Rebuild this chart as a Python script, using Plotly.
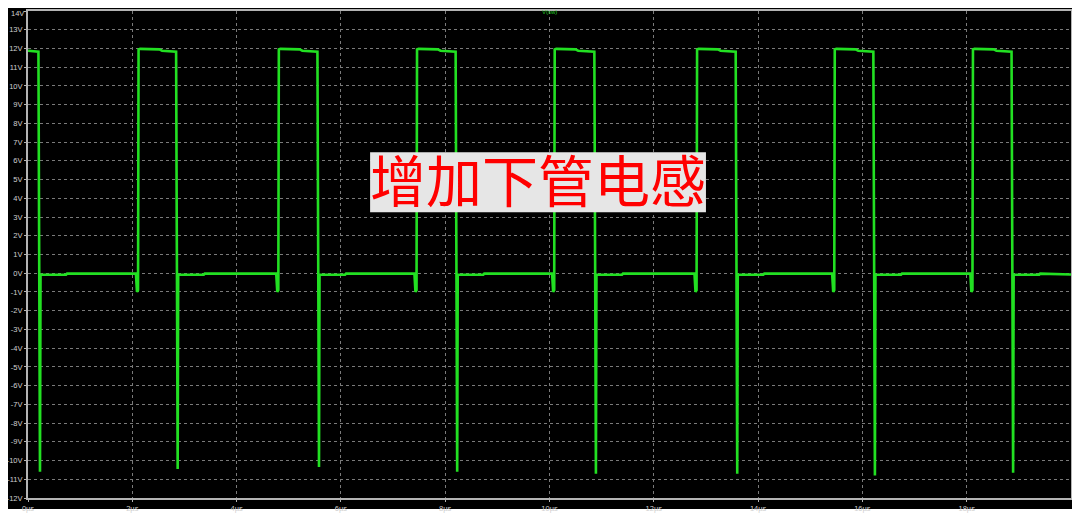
import plotly.graph_objects as go

# ---- data (times in µs, voltages in V) ----
rise_t = [2.12, 4.81, 7.46, 10.10, 12.83, 15.47, 18.12]
fall_t = [0.23, 2.87, 5.58, 8.23, 10.89, 13.60, 16.24, 18.89]
spike_min = [-10.6, -10.45, -10.35, -10.6, -10.7, -10.7, -10.8, -10.65]
dip_min = [-1.0, -1.0, -1.0, -1.0, -1.0, -1.0, -1.0]
high_start = 11.95
high_end = 11.88
low_after_fall = -0.08
low_before_rise = -0.02
t_end = 20.0

y_ticks = list(range(-12, 15))
y_labels = [f"{v}V" for v in y_ticks]
x_ticks = list(range(0, 20, 2))
x_labels = [f"{v}µs" for v in x_ticks]

# ---- assemble the polyline from the edge list ----
t, v = [0.0], [high_end]
for i, tf in enumerate(fall_t):
    t += [tf - 0.03, tf, tf + 0.01, tf + 0.5, tf + 0.52]
    v += [high_end - 0.05, spike_min[i], low_after_fall,
          low_after_fall, low_before_rise]
    if i < len(rise_t):
        tr = rise_t[i]
        t += [tr - 0.05, tr - 0.03, tr - 0.01, tr, tr + 0.03, tr + 0.4, tr + 0.45]
        v += [low_before_rise, dip_min[i], dip_min[i] + 0.1, high_start,
              high_start + 0.03, high_start, high_end]
t.append(t_end)
v.append(low_before_rise - 0.05)

fig = go.Figure()
fig.add_trace(go.Scatter(x=t, y=v, mode="lines",
                         line=dict(color="#22e022", width=2.6),
                         hoverinfo="skip", showlegend=False))

# black panel behind the plot
fig.add_shape(type="rect", xref="paper", yref="paper",
              x0=-0.0192, x1=1.002, y0=-0.0226, y1=1.008,
              fillcolor="black", line=dict(width=0), layer="below")
# light box behind the label
fig.add_shape(type="rect", xref="paper", yref="paper",
              x0=0.328, x1=0.650, y0=0.587, y1=0.710,
              fillcolor="#e6e6e6", line=dict(width=0), layer="above")

tick_font = dict(family="Liberation Sans", size=7.5, color="#d0d0d0")
axis_common = dict(showline=True, mirror=True, linecolor="#b4b4b4", linewidth=2,
                   showgrid=True, gridcolor="#7a7a7a", griddash="dot", gridwidth=1,
                   ticks="outside", ticklen=2, tickcolor="#b4b4b4",
                   tickfont=tick_font,
                   zeroline=False, fixedrange=True, automargin=False)

# top label is drawn as an annotation so it is not clipped by the page edge
y_labels_axis = ["" if v == y_ticks[-1] else lab for v, lab in zip(y_ticks, y_labels)]

fig.update_xaxes(range=[0, 20], tickvals=x_ticks, ticktext=x_labels, **axis_common)
fig.update_yaxes(range=[-12, 14], tickvals=y_ticks, ticktext=y_labels_axis,
                 ticklabelstandoff=0, **axis_common)

fig.add_annotation(text=y_labels[-1], xref="paper", yref="paper", x=0, y=1,
                   xanchor="right", yanchor="top", xshift=-3, yshift=3,
                   showarrow=False, borderpad=0, font=tick_font)

fig.add_annotation(text="增加下管电感", xref="paper", yref="paper", x=0.489, y=0.649,
                   showarrow=False, borderpad=0, yshift=4,
                   font=dict(family="Noto Sans CJK SC", size=56, color="#ff0000"))

fig.add_annotation(text="V(sw)", xref="paper", yref="paper", x=0.5, y=1.0,
                   yanchor="top", yshift=3, showarrow=False, borderpad=0,
                   font=dict(family="Liberation Sans", size=6, color="#22c022"))

# the page adds an 8px body margin, so the figure is 8px smaller and shifted
fig.update_layout(width=1072, height=510, margin=dict(l=20, r=9, t=3, b=20),
                  paper_bgcolor="white", plot_bgcolor="black")

fig.write_html("out.html")
